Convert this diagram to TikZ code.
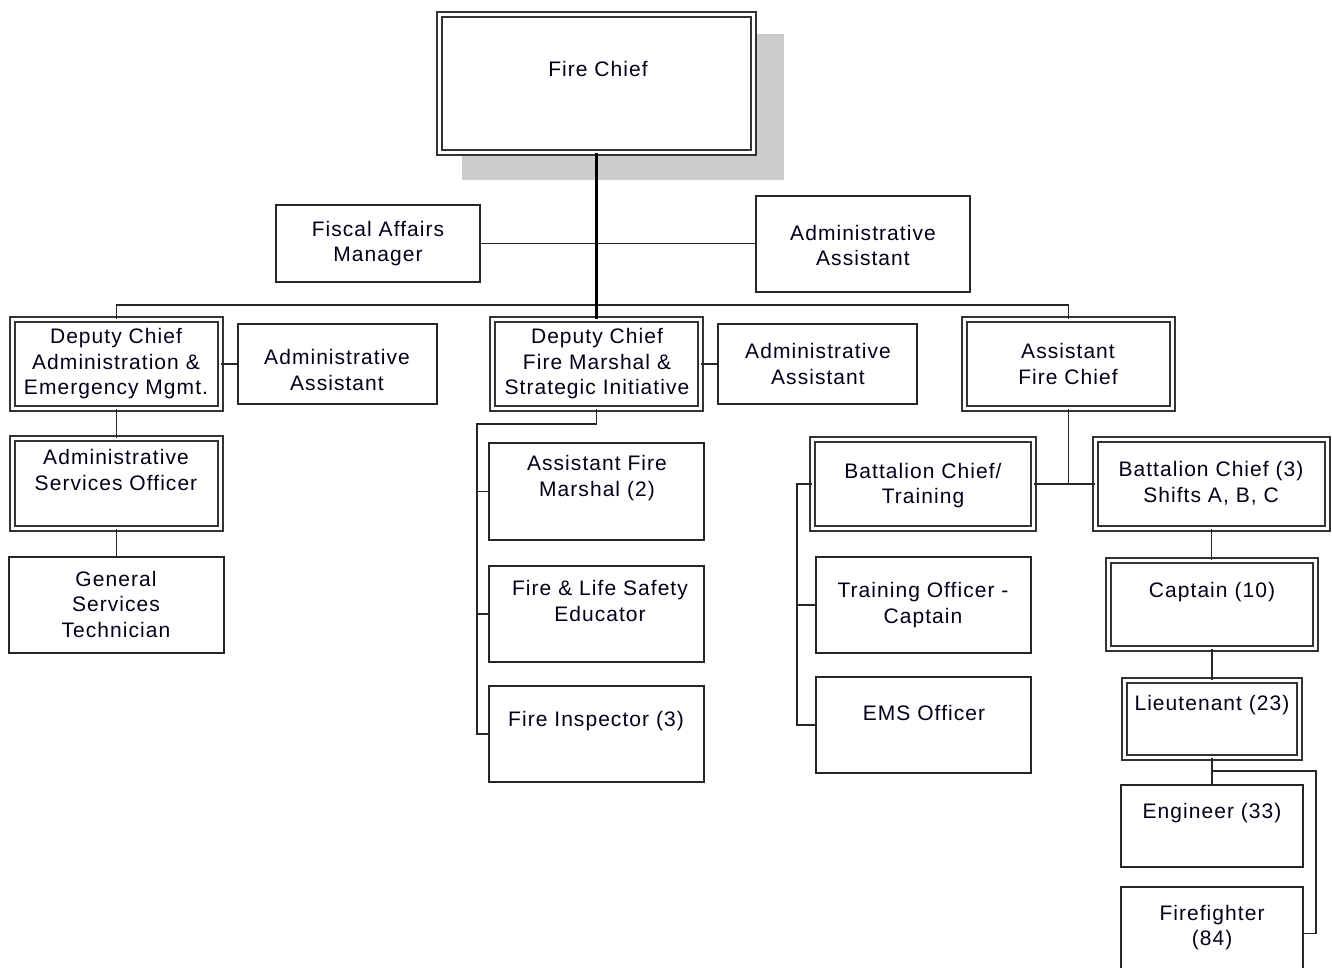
\documentclass[tikz,border=0pt]{standalone}
\usepackage{fontspec}
\setmainfont[LetterSpace=5]{Liberation Sans}
\begin{document}
\begin{tikzpicture}[x=1pt,y=-1pt,
  sbox/.style={draw=black!85, line width=1.6pt, fill=white, inner sep=0pt},
  dbox/.style={draw=black!80, double=white, double distance=3.5pt, line width=1.6pt, fill=white, inner sep=0pt},
  lbl/.style={align=center, inner sep=0pt, font=\fontsize{21}{25.5}\selectfont, text=black!90!blue},
  conn/.style={draw=black!85, line width=1.8pt},
  thick conn/.style={draw=black, line width=2.8pt}]
\useasboundingbox (0,0) rectangle (1332,967);
\clip (0,0) rectangle (1332,967);
% shadow of the chief box
\fill[black!20] (462,34) rectangle (784,180);
% boxes
\node[dbox, minimum width=314pt, minimum height=138pt] (fc) at (596.5,83.5) {};
\node[sbox, minimum width=204pt, minimum height=77pt] (fam) at (378,243.5) {};
\node[sbox, minimum width=214pt, minimum height=96pt] (aa0) at (863,244) {};
\node[dbox, minimum width=208pt, minimum height=89pt] (dc1) at (116.5,364) {};
\node[sbox, minimum width=199pt, minimum height=80pt] (aa1) at (337.5,364) {};
\node[dbox, minimum width=208pt, minimum height=90pt] (aso) at (116.5,483.5) {};
\node[sbox, minimum width=215pt, minimum height=96pt] (gst) at (116.5,605) {};
\node[dbox, minimum width=208pt, minimum height=89pt] (dc2) at (596.5,364) {};
\node[sbox, minimum width=199pt, minimum height=80pt] (aa2) at (817.5,364) {};
\node[sbox, minimum width=215pt, minimum height=97pt] (afm) at (596.5,491.5) {};
\node[sbox, minimum width=215pt, minimum height=96pt] (fls) at (596.5,614) {};
\node[sbox, minimum width=215pt, minimum height=96pt] (fi) at (596.5,734) {};
\node[dbox, minimum width=208pt, minimum height=89pt] (afc) at (1068.5,364) {};
\node[dbox, minimum width=221pt, minimum height=89pt] (bct) at (923,484) {};
\node[dbox, minimum width=232pt, minimum height=89pt] (bc3) at (1211.5,484) {};
\node[sbox, minimum width=215pt, minimum height=96pt] (toc) at (923.5,605) {};
\node[sbox, minimum width=215pt, minimum height=96pt] (ems) at (923.5,725) {};
\node[dbox, minimum width=207pt, minimum height=88pt] (cap) at (1212,604.5) {};
\node[dbox, minimum width=175pt, minimum height=77pt] (lt) at (1212,719) {};
\node[sbox, minimum width=182pt, minimum height=82pt] (eng) at (1212,826) {};
\node[sbox, minimum width=182pt, minimum height=93pt] (ff) at (1212,933.5) {};
% labels
\node[lbl] at (598,69) {Fire Chief};
\node[lbl] at (378,243.5) {Fiscal Affairs\\Manager};
\node[lbl] at (863,245.5) {Administrative\\Assistant};
\node[lbl] at (116,364) {Deputy Chief\\Administration \&\\Emergency Mgmt.};
\node[lbl] at (337,370) {Administrative\\Assistant};
\node[lbl] at (116,470) {Administrative\\Services Officer};
\node[lbl] at (116,604) {General\\Services\\Technician};
\node[lbl] at (597,364) {Deputy Chief\\Fire Marshal \&\\Strategic Initiative};
\node[lbl] at (818,364) {Administrative\\Assistant};
\node[lbl] at (597,478) {Assistant Fire\\Marshal (2)};
\node[lbl] at (600,601) {Fire \& Life Safety\\Educator};
\node[lbl] at (596,721) {Fire Inspector (3)};
\node[lbl] at (1068,364) {Assistant\\Fire Chief};
\node[lbl] at (923,485.5) {Battalion Chief/\\Training};
\node[lbl] at (1211,483) {Battalion Chief (3)\\Shifts A, B, C};
\node[lbl] at (923,605) {Training Officer -\\Captain};
\node[lbl] at (924,713) {EMS Officer};
\node[lbl] at (1212,592) {Captain (10)};
\node[lbl] at (1212,705) {Lieutenant (23)};
\node[lbl] at (1212,813) {Engineer (33)};
\node[lbl] at (1212,927.5) {Firefighter\\(84)};
% helper coordinates
\coordinate (bus) at (597,305);
\coordinate (m1) at (477,424);
\coordinate (m2) at (797,484);
\coordinate (m3) at (1212,771);
\coordinate (m4) at (1316,771);
% connectors
\draw[conn] (fam.east) -- (fam.east -| aa0.west);
\draw[conn] (dc1.north) |- (afc.north |- bus) -- (afc.north);
\draw[thick conn] (fc.south) -- (dc2.north);
\draw[conn] (dc1.east) -- (aa1.west);
\draw[conn] (dc1.south) -- (aso.north);
\draw[conn] (aso.south) -- (gst.north);
\draw[conn] (dc2.east) -- (aa2.west);
\draw[conn] (dc2.south) |- (m1) |- (afm.west);
\draw[conn] (m1) |- (fls.west);
\draw[conn] (m1) |- (fi.west);
\draw[conn] (afc.south) -- (afc.south |- bct.east);
\draw[conn] (bct.east) -- (bc3.west);
\draw[conn] (bct.west) -- (m2) |- (toc.west);
\draw[conn] (m2) |- (ems.west);
\draw[conn] (bc3.south) -- (bc3.south |- cap.north);
\draw[conn] (cap.south) -- (lt.north);
\draw[conn] (lt.south) -- (eng.north);
\draw[conn] (m3) -- (m4) |- (ff.east);
\end{tikzpicture}
\end{document}
